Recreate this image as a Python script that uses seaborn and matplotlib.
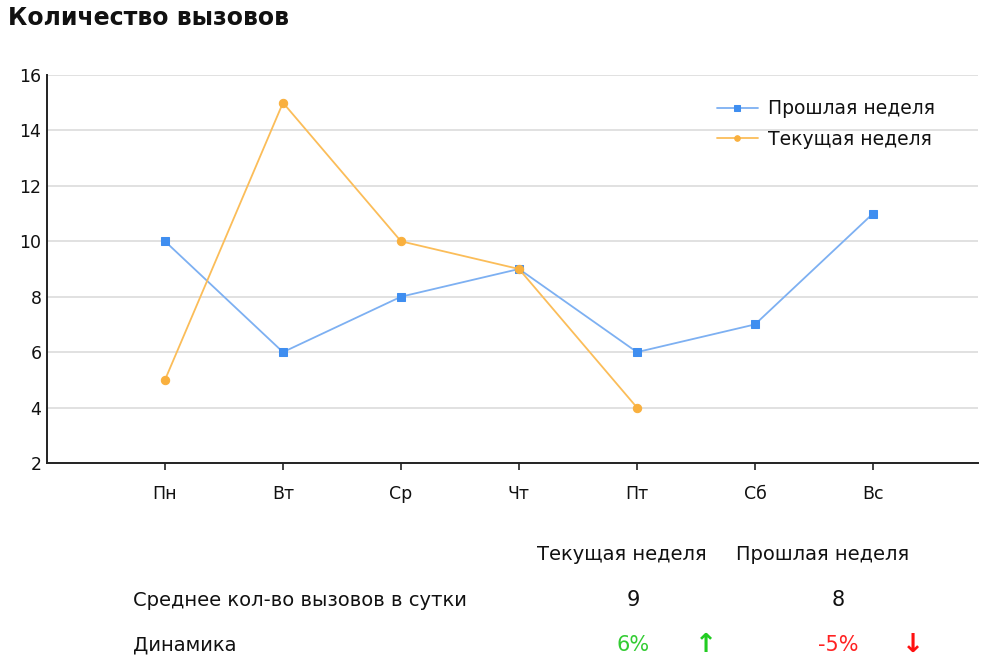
import numpy as np
import pandas as pd
import matplotlib
matplotlib.use("Agg")
import matplotlib.pyplot as plt
import seaborn as sns

days = ["Пн", "Вт", "Ср", "Чт", "Пт", "Сб", "Вс"]
prev_week = [10, 6, 8, 9, 6, 7, 11]
curr_week = [5, 15, 10, 9, 4, np.nan, np.nan]
series_names = ["Прошлая неделя", "Текущая неделя"]
avg_values = ["9", "8"]
dynamics = ["6%", "-5%"]
y_ticks = [2, 4, 6, 8, 10, 12, 14, 16]

sns.set_theme(style="white")
plt.rcParams["font.family"] = ["DejaVu Sans"]

fig = plt.figure(figsize=(9.81, 6.58), dpi=100)
ax = fig.add_axes([47 / 981, 1 - 463 / 658, (978 - 47) / 981, (463 - 75) / 658])

x = np.arange(len(days))
df_prev = pd.DataFrame({"x": x, "y": prev_week})
df_curr = pd.DataFrame({"x": x, "y": curr_week})

blue_line, blue_mark = "#7db0f2", "#3f8ef0"
orange_line, orange_mark = "#fbbd59", "#f9b03e"

sns.lineplot(data=df_prev, x="x", y="y", ax=ax, color=blue_line, lw=1.3,
             marker="s", markersize=6, markerfacecolor=blue_mark,
             markeredgecolor=blue_mark, label=series_names[0])
sns.lineplot(data=df_curr, x="x", y="y", ax=ax, color=orange_line, lw=1.3,
             marker="o", markersize=6, markerfacecolor=orange_mark,
             markeredgecolor=orange_mark, label=series_names[1])

ax.set_xlim(-1, 6.89)
ax.set_ylim(2, 16)
ax.set_yticks(y_ticks)
ax.set_xticks(x)
ax.set_xticklabels(days)
ax.set_xlabel("")
ax.set_ylabel("")
ax.yaxis.grid(True, color="#dcdcdc", lw=1.2)
ax.set_axisbelow(True)
for s in ["top", "right"]:
    ax.spines[s].set_visible(False)
for s in ["left", "bottom"]:
    ax.spines[s].set_color("#222222")
    ax.spines[s].set_linewidth(1.4)
ax.tick_params(axis="x", direction="out", length=5, width=1.2, color="#222222",
               labelsize=12.5, labelcolor="#111111", pad=11, bottom=True)
ax.tick_params(axis="y", length=0, labelsize=12.5, labelcolor="#111111", pad=4, left=False)

leg = ax.legend(loc="upper left", bbox_to_anchor=((709 - 47) / 931, (463 - 92) / 388),
                frameon=False, fontsize=13.5, handlelength=2.2, handletextpad=0.55,
                labelspacing=0.6, borderaxespad=0)
for t in leg.get_texts():
    t.set_color("#111111")
for h in leg.legend_handles:
    h.set_markersize(4)

fig.text(8 / 981, 1 - 18 / 658, "Количество вызовов", fontsize=17,
         fontweight="bold", va="center", ha="left", color="#111111")

def fy(py):
    return 1 - py / 658

def fx(px):
    return px / 981

fs = 14
col = "#111111"
fig.text(fx(622), fy(555), series_names[1], fontsize=fs, ha="center", va="center", color=col)
fig.text(fx(823), fy(555), series_names[0], fontsize=fs, ha="center", va="center", color=col)
fig.text(fx(133), fy(600), "Среднее кол-во вызовов в сутки", fontsize=fs, ha="left", va="center", color=col)
fig.text(fx(633), fy(600), avg_values[0], fontsize=15, ha="center", va="center", color=col)
fig.text(fx(838), fy(600), avg_values[1], fontsize=15, ha="center", va="center", color=col)
fig.text(fx(133), fy(645), "Динамика", fontsize=fs, ha="left", va="center", color=col)
fig.text(fx(633), fy(645), dynamics[0], fontsize=15, ha="center", va="center", color="#33cc33")
fig.text(fx(706), fy(645), "↑", fontsize=19, ha="center", va="center", color="#22cc22", fontweight="bold")
fig.text(fx(838), fy(645), dynamics[1], fontsize=15, ha="center", va="center", color="#ff2222")
fig.text(fx(913), fy(645), "↓", fontsize=19, ha="center", va="center", color="#ff1111", fontweight="bold")

fig.savefig("out.png", dpi=100)
